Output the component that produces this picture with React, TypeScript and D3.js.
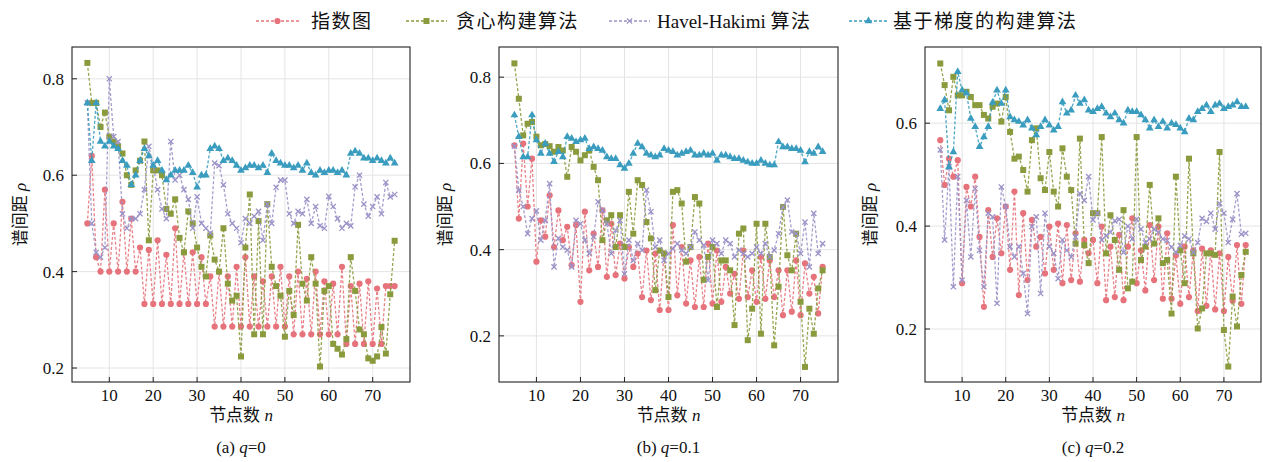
import React from "react";
import * as d3 from "d3";

// ---------- data ----------
const nodes = [
  5, 6, 7, 8, 9, 10, 11, 12, 13, 14, 15, 16, 17, 18, 19, 20, 21, 22, 23, 24,
  25, 26, 27, 28, 29, 30, 31, 32, 33, 34, 35, 36, 37, 38, 39, 40, 41, 42, 43, 44,
  45, 46, 47, 48, 49, 50, 51, 52, 53, 54, 55, 56, 57, 58, 59, 60, 61, 62, 63, 64,
  65, 66, 67, 68, 69, 70, 71, 72, 73, 74, 75,
];

const seriesNames = ["指数图", "贪心构建算法", "Havel-Hakimi 算法", "基于梯度的构建算法"];
const xTicks = [10, 20, 30, 40, 50, 60, 70];

// panel (a) q=0
const aExp = [
  0.5, 0.64, 0.43, 0.4, 0.57, 0.4, 0.5, 0.4, 0.545, 0.4,
  0.51, 0.4, 0.45, 0.333, 0.445, 0.333, 0.465, 0.333, 0.435, 0.333,
  0.49, 0.333, 0.44, 0.333, 0.44, 0.333, 0.43, 0.333, 0.39, 0.286,
  0.4, 0.286, 0.39, 0.286, 0.41, 0.286, 0.43, 0.286, 0.39, 0.286,
  0.38, 0.286, 0.39, 0.286, 0.41, 0.286, 0.39, 0.27, 0.4, 0.27,
  0.385, 0.27, 0.4, 0.27, 0.38, 0.27, 0.375, 0.27, 0.41, 0.25,
  0.37, 0.25, 0.375, 0.25, 0.38, 0.25, 0.365, 0.25, 0.37, 0.37, 0.37,
];
const aGreedy = [
  0.833, 0.75, 0.75, 0.7, 0.73, 0.68, 0.67, 0.66, 0.645, 0.6,
  0.58, 0.61, 0.63, 0.67, 0.465, 0.61, 0.61, 0.6, 0.53, 0.52,
  0.55, 0.47, 0.44, 0.525, 0.5, 0.45, 0.41, 0.39, 0.475, 0.425,
  0.4, 0.49, 0.375, 0.34, 0.35, 0.224, 0.45, 0.56, 0.27, 0.505,
  0.27, 0.54, 0.41, 0.37, 0.35, 0.265, 0.36, 0.31, 0.497, 0.375,
  0.34, 0.43, 0.375, 0.203, 0.36, 0.37, 0.25, 0.24, 0.228, 0.26,
  0.43, 0.36, 0.28, 0.27, 0.22, 0.215, 0.224, 0.285, 0.23, 0.353, 0.464,
];
const aHH = [
  0.75, 0.5, 0.44, 0.43, 0.45, 0.8, 0.68, 0.67, 0.52, 0.49,
  0.51, 0.51, 0.52, 0.57, 0.66, 0.62, 0.57, 0.53, 0.51, 0.67,
  0.59, 0.6, 0.57, 0.55, 0.49, 0.555, 0.5, 0.49, 0.48, 0.625,
  0.62, 0.58, 0.52, 0.5, 0.49, 0.46, 0.51, 0.5, 0.515, 0.525,
  0.465, 0.54, 0.5, 0.575, 0.59, 0.59, 0.52, 0.5, 0.525, 0.52,
  0.55, 0.5, 0.535, 0.495, 0.49, 0.556, 0.535, 0.51, 0.49, 0.5,
  0.495, 0.576, 0.6, 0.54, 0.515, 0.535, 0.555, 0.52, 0.585, 0.555, 0.56,
];
const aGrad = [
  0.75, 0.63, 0.75, 0.67, 0.66, 0.67, 0.66, 0.655, 0.63, 0.62,
  0.58, 0.6, 0.63, 0.655, 0.64, 0.62, 0.63, 0.61, 0.59, 0.6,
  0.61, 0.61, 0.61, 0.62, 0.605, 0.575, 0.6, 0.6, 0.655, 0.66,
  0.655, 0.63, 0.635, 0.63, 0.62, 0.61, 0.615, 0.62, 0.62, 0.615,
  0.62, 0.605, 0.645, 0.63, 0.625, 0.62, 0.62, 0.615, 0.62, 0.61,
  0.625, 0.605, 0.6, 0.61, 0.605, 0.61, 0.61, 0.605, 0.61, 0.6,
  0.645, 0.65, 0.645, 0.635, 0.635, 0.63, 0.635, 0.63, 0.625, 0.635, 0.625,
];

// panel (b) q=0.1
const bExp = [
  0.642, 0.472, 0.646, 0.5, 0.611, 0.372, 0.468, 0.43, 0.526, 0.406,
  0.491, 0.422, 0.453, 0.364, 0.457, 0.279, 0.488, 0.352, 0.437, 0.36,
  0.491, 0.337, 0.46, 0.341, 0.414, 0.333, 0.406, 0.36, 0.391, 0.29,
  0.398, 0.283, 0.391, 0.26, 0.391, 0.26, 0.457, 0.294, 0.406, 0.275,
  0.375, 0.267, 0.383, 0.267, 0.414, 0.275, 0.398, 0.279, 0.36, 0.298,
  0.344, 0.286, 0.398, 0.29, 0.352, 0.279, 0.383, 0.286, 0.375, 0.29,
  0.352, 0.248, 0.352, 0.256, 0.375, 0.248, 0.368, 0.298, 0.337, 0.252, 0.36,
];
const bGreedy = [
  0.832, 0.75, 0.665, 0.692, 0.696, 0.662, 0.642, 0.645, 0.64, 0.627,
  0.638, 0.63, 0.569, 0.638, 0.627, 0.607, 0.619, 0.63, 0.592, 0.561,
  0.422, 0.468, 0.48, 0.406, 0.48, 0.406, 0.534, 0.437, 0.561, 0.55,
  0.464, 0.426, 0.306, 0.398, 0.391, 0.29, 0.534, 0.538, 0.507, 0.372,
  0.406, 0.522, 0.507, 0.33, 0.383, 0.406, 0.267, 0.375, 0.375, 0.352,
  0.225, 0.437, 0.449, 0.19, 0.263, 0.46, 0.205, 0.46, 0.383, 0.178,
  0.314, 0.499, 0.387, 0.352, 0.437, 0.279, 0.128, 0.263, 0.205, 0.31, 0.352,
];
const bHH = [
  0.64, 0.538, 0.5, 0.437, 0.472, 0.49, 0.422, 0.468, 0.553, 0.36,
  0.426, 0.406, 0.399, 0.36, 0.468, 0.46, 0.422, 0.391, 0.43, 0.511,
  0.491, 0.46, 0.391, 0.445, 0.468, 0.344, 0.422, 0.375, 0.414, 0.399,
  0.538, 0.488, 0.406, 0.422, 0.375, 0.391, 0.402, 0.414, 0.399, 0.391,
  0.406, 0.441, 0.422, 0.41, 0.329, 0.422, 0.414, 0.391, 0.422, 0.414,
  0.383, 0.399, 0.391, 0.383, 0.391, 0.406, 0.391, 0.414, 0.383, 0.399,
  0.437, 0.499, 0.515, 0.441, 0.437, 0.391, 0.464, 0.36, 0.484, 0.391, 0.414,
];
const bGrad = [
  0.712, 0.662, 0.615, 0.615, 0.712, 0.654, 0.623, 0.646, 0.623, 0.604,
  0.627, 0.615, 0.662, 0.658, 0.65, 0.654, 0.658, 0.634, 0.638, 0.634,
  0.63, 0.615, 0.611, 0.611, 0.596, 0.588, 0.6, 0.623, 0.646, 0.638,
  0.623, 0.619, 0.615, 0.619, 0.634, 0.63, 0.627, 0.619, 0.623, 0.627,
  0.63, 0.619, 0.619, 0.623, 0.619, 0.623, 0.607, 0.619, 0.619, 0.615,
  0.611, 0.611, 0.607, 0.603, 0.6, 0.6, 0.607, 0.6, 0.596, 0.596,
  0.65, 0.638, 0.638, 0.634, 0.634, 0.63, 0.603, 0.627, 0.623, 0.638, 0.627,
];

// panel (c) q=0.2
const cExp = [
  0.567, 0.48, 0.531, 0.496, 0.528, 0.289, 0.476, 0.438, 0.496, 0.379,
  0.243, 0.431, 0.34, 0.415, 0.347, 0.438, 0.315, 0.467, 0.266, 0.425,
  0.295, 0.412, 0.36, 0.379, 0.308, 0.399, 0.315, 0.405, 0.289, 0.402,
  0.295, 0.386, 0.292, 0.373, 0.347, 0.373, 0.289, 0.399, 0.256, 0.36,
  0.262, 0.383, 0.256, 0.36, 0.415, 0.289, 0.353, 0.275, 0.402, 0.295,
  0.399, 0.259, 0.386, 0.259, 0.343, 0.249, 0.36, 0.262, 0.353, 0.235,
  0.356, 0.245, 0.353, 0.238, 0.347, 0.235, 0.34, 0.255, 0.363, 0.249, 0.363,
];
const cGreedy = [
  0.716, 0.674, 0.625, 0.69, 0.654, 0.654, 0.661, 0.651, 0.635, 0.635,
  0.616, 0.609, 0.632, 0.638, 0.603, 0.651, 0.583, 0.531, 0.535, 0.509,
  0.467, 0.567, 0.59, 0.493, 0.47, 0.544, 0.467, 0.438, 0.551, 0.496,
  0.47, 0.366, 0.57, 0.363, 0.328, 0.425, 0.425, 0.573, 0.347, 0.421,
  0.373, 0.315, 0.431, 0.279, 0.292, 0.573, 0.334, 0.36, 0.48, 0.366,
  0.415, 0.328, 0.334, 0.23, 0.496, 0.353, 0.289, 0.531, 0.347, 0.201,
  0.24, 0.347, 0.347, 0.344, 0.544, 0.198, 0.127, 0.263, 0.205, 0.305, 0.35,
];
const cHH = [
  0.548, 0.373, 0.515, 0.282, 0.496, 0.295, 0.45, 0.34, 0.473, 0.353,
  0.282, 0.425, 0.418, 0.25, 0.476, 0.438, 0.36, 0.34, 0.36, 0.308,
  0.23, 0.399, 0.418, 0.269, 0.425, 0.36, 0.347, 0.298, 0.373, 0.353,
  0.34, 0.379, 0.463, 0.45, 0.496, 0.412, 0.425, 0.373, 0.381, 0.388,
  0.41, 0.413, 0.349, 0.4, 0.375, 0.413, 0.394, 0.368, 0.375, 0.394,
  0.388, 0.375, 0.372, 0.359, 0.349, 0.362, 0.381, 0.375, 0.349, 0.368,
  0.415, 0.409, 0.425, 0.394, 0.444, 0.425, 0.368, 0.413, 0.463, 0.384, 0.386,
];
const cGrad = [
  0.628, 0.645, 0.515, 0.544, 0.7, 0.664, 0.658, 0.609, 0.593, 0.554,
  0.573, 0.593, 0.64, 0.664, 0.638, 0.664, 0.612, 0.606, 0.603, 0.596,
  0.606, 0.59, 0.577, 0.593, 0.606, 0.596, 0.586, 0.593, 0.641, 0.619,
  0.625, 0.654, 0.638, 0.645, 0.625, 0.622, 0.628, 0.632, 0.619, 0.612,
  0.619, 0.606, 0.6, 0.625, 0.622, 0.622, 0.616, 0.606, 0.59, 0.606,
  0.593, 0.603, 0.59, 0.6, 0.597, 0.59, 0.583, 0.609, 0.606, 0.622,
  0.628, 0.635, 0.622, 0.635, 0.638, 0.628, 0.632, 0.635, 0.641, 0.632, 0.632,
];

const aYTicks = [0.2, 0.4, 0.6, 0.8];
const bYTicks = [0.2, 0.4, 0.6, 0.8];
const cYTicks = [0.2, 0.4, 0.6];

// ---------- styles ----------
const COLORS = ["#E6737B", "#8A9B3D", "#9C92C8", "#3A9CBE"];
const MARKERS = ["circle", "square", "x", "triangle"];
const FONT = "'Liberation Serif', 'Times New Roman', 'Noto Sans CJK SC', serif";
const TOP = 47;
const BOTTOM = 382;

const panels = [
  { left: 72, right: 410, yDomain: [0.171, 0.866], yTicks: aYTicks, series: [aExp, aGreedy, aHH, aGrad], tag: "(a) ", q: "=0", ylabX: 22 },
  { left: 499, right: 838, yDomain: [0.093, 0.87], yTicks: bYTicks, series: [bExp, bGreedy, bHH, bGrad], tag: "(b) ", q: "=0.1", ylabX: 447 },
  { left: 925, right: 1261, yDomain: [0.097, 0.748], yTicks: cYTicks, series: [cExp, cGreedy, cHH, cGrad], tag: "(c) ", q: "=0.2", ylabX: 872 },
];

function Marker({ type, x, y, color }: { type: string; x: number; y: number; color: string }) {
  if (type === "circle") return <circle cx={x} cy={y} r={3.1} fill={color} />;
  if (type === "square") return <rect x={x - 3} y={y - 3} width={6} height={6} fill={color} />;
  if (type === "triangle")
    return <path d={d3.symbol(d3.symbolTriangle, 26)() || ""} transform={`translate(${x},${y})`} fill={color} />;
  return (
    <path d={`M${x - 2.6},${y - 2.6}L${x + 2.6},${y + 2.6}M${x - 2.6},${y + 2.6}L${x + 2.6},${y - 2.6}`} stroke={color} strokeWidth={1.3} fill="none" />
  );
}

function Panel({ p }: { p: (typeof panels)[number] }) {
  const x = d3.scaleLinear().domain([1.5, 78.5]).range([p.left, p.right]);
  const y = d3.scaleLinear().domain(p.yDomain).range([BOTTOM, TOP]);
  const line = d3
    .line<number>()
    .x((_, i) => x(nodes[i]))
    .y((d) => y(d));
  const cx = (p.left + p.right) / 2;
  return (
    <g>
      <defs>
        <clipPath id={`clip${p.left}`}>
          <rect x={p.left} y={TOP} width={p.right - p.left} height={BOTTOM - TOP} />
        </clipPath>
      </defs>
      {xTicks.map((t) => (
        <line key={"gx" + t} x1={x(t)} x2={x(t)} y1={TOP} y2={BOTTOM} stroke="#e4e4e4" strokeWidth={1} />
      ))}
      {p.yTicks.map((t) => (
        <line key={"gy" + t} x1={p.left} x2={p.right} y1={y(t)} y2={y(t)} stroke="#e4e4e4" strokeWidth={1} />
      ))}
      <g clipPath={`url(#clip${p.left})`}>
        {p.series.map((s, si) => (
          <g key={si}>
            <path d={line(s) || ""} fill="none" stroke={COLORS[si]} strokeWidth={1.3} strokeDasharray="3 2" opacity={0.9} />
            {s.map((v, i) => (
              <Marker key={i} type={MARKERS[si]} x={x(nodes[i])} y={y(v)} color={COLORS[si]} />
            ))}
          </g>
        ))}
      </g>
      <rect x={p.left} y={TOP} width={p.right - p.left} height={BOTTOM - TOP} fill="none" stroke="#222" strokeWidth={1.1} />
      {xTicks.map((t) => (
        <g key={"tx" + t}>
          <line x1={x(t)} x2={x(t)} y1={BOTTOM} y2={BOTTOM - 5} stroke="#222" strokeWidth={1} />
          <text x={x(t)} y={BOTTOM + 19} textAnchor="middle" fontSize={17} fontFamily={FONT} fill="#111">
            {t}
          </text>
        </g>
      ))}
      {p.yTicks.map((t) => (
        <g key={"ty" + t}>
          <line x1={p.left} x2={p.left + 5} y1={y(t)} y2={y(t)} stroke="#222" strokeWidth={1} />
          <text x={p.left - 8} y={y(t) + 6} textAnchor="end" fontSize={17} fontFamily={FONT} fill="#111">
            {d3.format(".1f")(t)}
          </text>
        </g>
      ))}
      <text x={cx} y={421} textAnchor="middle" fontSize={17} fontFamily={FONT} fill="#111">
        节点数 <tspan fontStyle="italic">n</tspan>
      </text>
      <text x={cx} y={453} textAnchor="middle" fontSize={17} fontFamily={FONT} fill="#111">
        {p.tag}
        <tspan fontStyle="italic">q</tspan>
        {p.q}
      </text>
      <text
        transform={`translate(${p.ylabX},${(TOP + BOTTOM) / 2}) rotate(-90)`}
        textAnchor="middle"
        dominantBaseline="middle"
        fontSize={17}
        fontFamily={FONT}
        fill="#111"
      >
        谱间距 <tspan fontStyle="italic">ρ</tspan>
      </text>
    </g>
  );
}

const legendPos = [
  { x1: 256, x2: 299, tx: 311 },
  { x1: 406, x2: 447, tx: 456 },
  { x1: 609, x2: 650, tx: 657 },
  { x1: 849, x2: 888, tx: 893 },
];
const LEG_Y = 21;

// split label into Latin / CJK runs so only CJK gets extra spacing
function runs(s: string) {
  return s.match(/[\x00-\x7F]+|[^\x00-\x7F]+/g) || [s];
}

export default function App() {
  return (
    <svg width={1263} height={462} style={{ display: "block", position: "absolute", left: 0, top: 0, background: "#fff" }}>
      <rect width={1263} height={462} fill="#fff" />
      {seriesNames.map((name, i) => {
        const lp = legendPos[i];
        return (
          <g key={name}>
            <line x1={lp.x1} x2={lp.x2} y1={LEG_Y} y2={LEG_Y} stroke={COLORS[i]} strokeWidth={1.3} strokeDasharray="3 2" />
            <Marker type={MARKERS[i]} x={(lp.x1 + lp.x2) / 2} y={LEG_Y} color={COLORS[i]} />
            <text x={lp.tx} y={LEG_Y + 7} fontSize={19} fontFamily={FONT} fill="#111">
              {runs(name).map((r, k) => (
                <tspan key={k} letterSpacing={/[^\x00-\x7F]/.test(r) ? 1.5 : 0}>
                  {r}
                </tspan>
              ))}
            </text>
          </g>
        );
      })}
      {panels.map((p, i) => (
        <Panel key={i} p={p} />
      ))}
    </svg>
  );
}
